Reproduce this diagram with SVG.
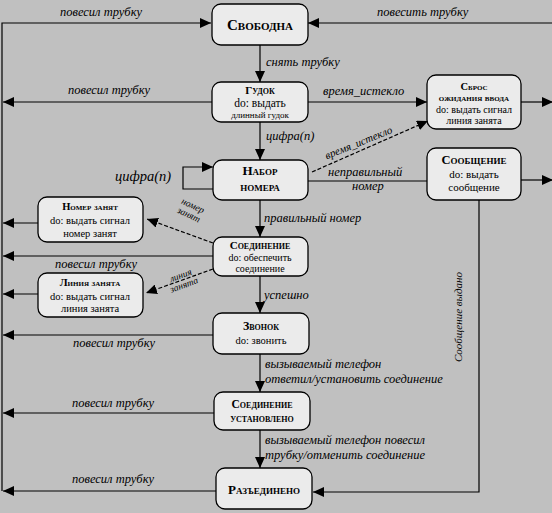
<svg xmlns="http://www.w3.org/2000/svg" width="552" height="513" viewBox="0 0 552 513">
<style>
.bg{fill:#c0c0c0}
.node rect{fill:#ebebeb;stroke:#000;stroke-width:1.3}
.t{font-family:"Liberation Serif","DejaVu Serif","Times New Roman",serif;font-weight:bold;font-variant:small-caps;fill:#000;text-anchor:middle}
.s{font-family:"Liberation Serif","DejaVu Serif","Times New Roman",serif;font-size:10.5px;fill:#000;text-anchor:middle}
.c line,.c path{stroke:#000;stroke-width:1.2;fill:none}
.c .d{stroke-dasharray:4,2}
.a{marker-end:url(#ah)}
.l{font-family:"Liberation Serif","DejaVu Serif","Times New Roman",serif;font-style:italic;font-size:12.5px;fill:#000}
.ls{font-family:"Liberation Serif","DejaVu Serif","Times New Roman",serif;font-style:italic;font-size:9.5px;fill:#000;text-anchor:middle}
</style>
<defs>
<marker id="ah" markerUnits="userSpaceOnUse" markerWidth="12" markerHeight="10" refX="11" refY="5" orient="auto">
<path d="M0,0 L11,5 L0,10 Z" fill="#000"/>
</marker>
</defs>
<rect class="bg" x="0" y="0" width="552" height="513"/>
<g class="c" id="connectors">
<path class="a" d="M2,491 V23 H211"/>
<line class="a" x1="553" y1="23" x2="308" y2="23"/>
<line class="a" x1="260" y1="45" x2="260" y2="82"/>
<line class="a" x1="212" y1="102" x2="3" y2="102"/>
<line class="a" x1="308" y1="102" x2="427" y2="102"/>
<line class="a" x1="521" y1="102" x2="553" y2="102"/>
<line class="a" x1="260" y1="122" x2="260" y2="160"/>
<path class="a" d="M213,189 H183 V167 H213"/>
<line class="a d" x1="312" y1="172" x2="428" y2="121"/>
<line x1="308" y1="181" x2="427" y2="181"/>
<line class="a" x1="521" y1="180" x2="553" y2="180"/>
<line class="a" x1="260" y1="200" x2="260" y2="237"/>
<line class="a d" x1="213" y1="243" x2="147" y2="219"/>
<line class="a" x1="38" y1="223" x2="3" y2="223"/>
<line class="a" x1="213" y1="256" x2="3" y2="256"/>
<line class="a d" x1="213" y1="269" x2="146" y2="293"/>
<line class="a" x1="38" y1="294" x2="3" y2="294"/>
<line class="a" x1="260" y1="276" x2="260" y2="313"/>
<line class="a" x1="213" y1="335" x2="3" y2="335"/>
<line class="a" x1="260" y1="354" x2="260" y2="392"/>
<line class="a" x1="214" y1="413" x2="3" y2="413"/>
<line class="a" x1="260" y1="430" x2="260" y2="468"/>
<line class="a" x1="216" y1="491" x2="3" y2="491"/>
<path class="a" d="M479,200 V492 H313"/>
</g>
<g id="labels">
<text class="l" x="60" y="16">повесил трубку</text>
<text class="l" x="377" y="16">повесить трубку</text>
<text class="l" x="266" y="66">снять трубку</text>
<text class="l" x="68" y="94">повесил трубку</text>
<text class="l" x="323" y="95">время_истекло</text>
<text class="l" x="266" y="140">цифра(n)</text>
<text class="l" x="115" y="181" style="font-size:14.5px">цифра(n)</text>
<text class="l" x="360" y="146" text-anchor="middle" transform="rotate(-22 360 146)" style="font-size:11px">время_истекло</text>
<text class="l" x="328" y="176">неправильный</text>
<text class="l" x="352" y="190">номер</text>
<text class="l" x="264" y="222">правильный номер</text>
<g transform="rotate(25 190 212)"><text class="ls" x="190" y="208">номер</text><text class="ls" x="190" y="218">занят</text></g>
<text class="l" x="55" y="268">повесил трубку</text>
<g transform="rotate(-20 183 282)"><text class="ls" x="183" y="278">линия</text><text class="ls" x="183" y="288">занята</text></g>
<text class="l" x="264" y="299">успешно</text>
<text class="l" x="73" y="347">повесил трубку</text>
<text class="l" x="265" y="368">вызываемый телефон</text>
<text class="l" x="265" y="383">ответил/установить соединение</text>
<text class="l" x="72" y="407">повесил трубку</text>
<text class="l" x="265" y="444">вызываемый телефон повесил</text>
<text class="l" x="265" y="459">трубку/отменить соединение</text>
<text class="l" x="72" y="483">повесил трубку</text>
<text class="l" x="462" y="317" text-anchor="middle" transform="rotate(-90 462 317)" style="font-size:11px">Сообщение выдано</text>
</g>
<g class="node" id="svobodna"><rect x="212" y="4" width="96" height="41" rx="9"/><text class="t" x="260" y="30" style="font-size:15px">Свободна</text></g>
<g class="node" id="gudok"><rect x="212" y="82" width="96" height="40" rx="9"/><text class="t" x="260" y="94" style="font-size:11px">Гудок</text><text class="s" x="260" y="107" style="font-size:11.5px">do: выдать</text><text class="s" x="260" y="118" style="font-size:9px">длинный гудок</text></g>
<g class="node" id="sbros"><rect x="427" y="75" width="94" height="54" rx="9"/><text class="t" x="474" y="90" style="font-size:10.5px">Сброс</text><text class="t" x="474" y="101" style="font-size:10px">ожидания ввода</text><text class="s" x="474" y="113" style="font-size:10px">do: выдать сигнал</text><text class="s" x="474" y="124" style="font-size:10px">линия занята</text></g>
<g class="node" id="nabor"><rect x="213" y="160" width="95" height="40" rx="9"/><text class="t" x="260" y="175" style="font-size:13px">Набор</text><text class="t" x="260" y="191" style="font-size:13px">номера</text></g>
<g class="node" id="soobshchenie"><rect x="427" y="148" width="94" height="52" rx="9"/><text class="t" x="474" y="164" style="font-size:12.5px">Сообщение</text><text class="s" x="474" y="178" style="font-size:11px">do: выдать</text><text class="s" x="474" y="191" style="font-size:11px">сообщение</text></g>
<g class="node" id="nomer-zanyat"><rect x="38" y="197" width="105" height="45" rx="9"/><text class="t" x="90" y="210" style="font-size:10.5px">Номер занят</text><text class="s" x="90" y="224">do: выдать сигнал</text><text class="s" x="90" y="237">номер занят</text></g>
<g class="node" id="soedinenie"><rect x="213" y="237" width="95" height="39" rx="9"/><text class="t" x="260" y="249" style="font-size:11px">Соединение</text><text class="s" x="260" y="261" style="font-size:10px">do: обеспечить</text><text class="s" x="260" y="272" style="font-size:10px">соединение</text></g>
<g class="node" id="liniya-zanyata"><rect x="38" y="273" width="105" height="44" rx="9"/><text class="t" x="90" y="286" style="font-size:10.5px">Линия занята</text><text class="s" x="90" y="300">do: выдать сигнал</text><text class="s" x="90" y="312">линия занята</text></g>
<g class="node" id="zvonok"><rect x="213" y="313" width="96" height="41" rx="9"/><text class="t" x="261" y="330" style="font-size:12px">Звонок</text><text class="s" x="261" y="344" style="font-size:10.5px">do: звонить</text></g>
<g class="node" id="soed-ustanovleno"><rect x="214" y="392" width="96" height="38" rx="9"/><text class="t" x="262" y="408" style="font-size:11.5px">Соединение</text><text class="t" x="262" y="422" style="font-size:11.5px">установлено</text></g>
<g class="node" id="razedineno"><rect x="216" y="468" width="96" height="41" rx="9"/><text class="t" x="264" y="494" style="font-size:13px">Разъединено</text></g>
</svg>
